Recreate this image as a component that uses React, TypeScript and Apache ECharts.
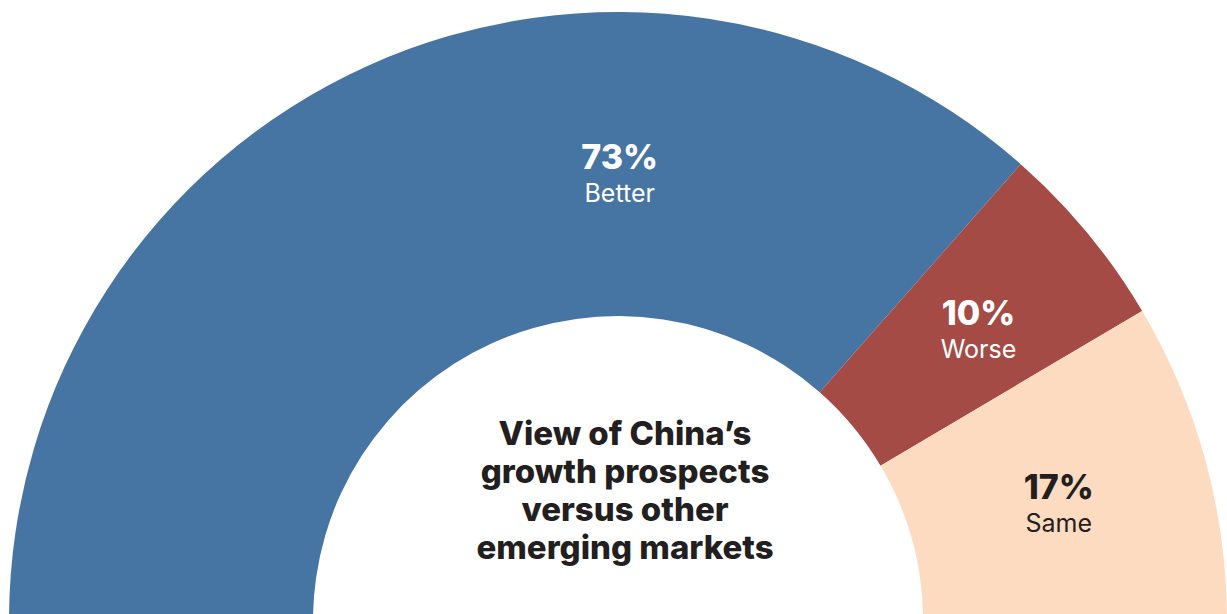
import React, { useEffect, useRef } from "react";
import * as echarts from "echarts";

const categories = ["Better", "Worse", "Same"];
const values = [73, 10, 17];
const sliceColors = ["#4674a3", "#a54b45", "#fddbc1"];
const labelColors = ["#ffffff", "#ffffff", "#231f20"];
const labelOffsets: [number, number][] = [[191, -28], [6, 2], [-3, 4]];
const titleLines = ["View of China’s", "growth prospects", "versus other", "emerging markets"];

const FONT = "Inter, 'Open Sans', sans-serif";

export default function App() {
  const ref = useRef<HTMLDivElement>(null);
  useEffect(() => {
    if (!ref.current) return;
    const chart = echarts.init(ref.current, undefined, { renderer: "svg" });
    chart.setOption({
      animation: false,
      backgroundColor: "#ffffff",
      textStyle: { fontFamily: FONT },
      series: [
        {
          type: "pie",
          center: [618, 621],
          radius: [305, 609],
          startAngle: 180,
          endAngle: 0,
          clockwise: true,
          silent: true,
          avoidLabelOverlap: false,
          labelLine: { show: false },
          emphasis: { disabled: true },
          data: categories.map((name, i) => ({
            name,
            value: values[i],
            itemStyle: { color: sliceColors[i] },
            label: {
              show: true,
              position: "inside",
              offset: labelOffsets[i],
              formatter: "{p|{c}%}\n{n|{b}}",
              rich: {
                p: {
                  fontFamily: FONT,
                  fontSize: 34,
                  fontWeight: 800,
                  lineHeight: 38,
                  color: labelColors[i],
                  align: "center",
                },
                n: {
                  fontFamily: FONT,
                  fontSize: 25,
                  fontWeight: 400,
                  lineHeight: 34,
                  color: labelColors[i],
                  align: "center",
                },
              },
            },
          })),
        },
      ],
      graphic: [
        {
          type: "text",
          x: 625,
          y: 414,
          style: {
            text: titleLines.join("\n"),
            align: "center",
            verticalAlign: "top",
            fontFamily: FONT,
            fontSize: 33,
            fontWeight: 800,
            lineHeight: 38,
            fill: "#231f20",
          },
        },
      ],
    });
    return () => chart.dispose();
  }, []);
  return (
    <div
      ref={ref}
      style={{ position: "fixed", left: 0, top: 0, width: 1227, height: 614 }}
    />
  );
}
